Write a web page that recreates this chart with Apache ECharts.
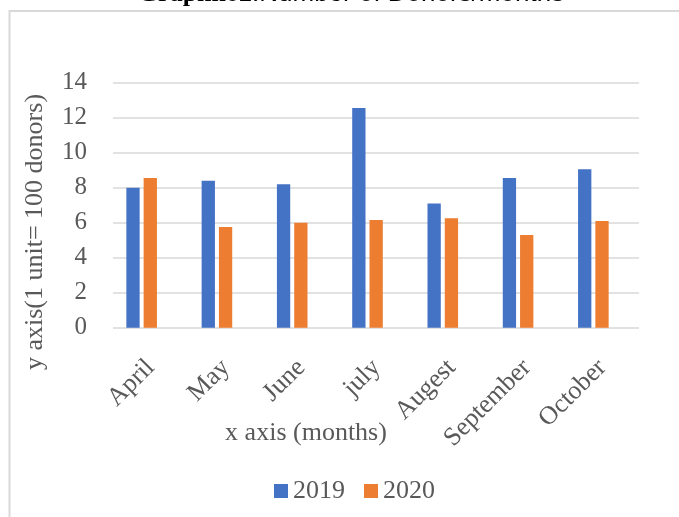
<!DOCTYPE html>
<html>
<head>
<meta charset="utf-8">
<script src="https://cdn.jsdelivr.net/npm/echarts@6/dist/echarts.min.js"></script>
<style>
  html, body { margin: 0; padding: 0; background: #fff; }
  #chart { width: 679px; height: 517px; }
</style>
</head>
<body>
<div id="chart"></div>
<script>
// Monthly donor counts (1 unit = 100 donors)
const months = ['April', 'May', 'June', 'july', 'Augest', 'September', 'October'];
const donors2019 = [8.0, 8.4, 8.2, 12.55, 7.1, 8.55, 9.05];
const donors2020 = [8.55, 5.75, 6.0, 6.15, 6.25, 5.3, 6.1];
const seriesNames = ['2019', '2020'];
const yTicks = { min: 0, max: 14, step: 2 };

const serif = 'Liberation Serif';
const grey = '#595959';
const gridLine = '#d9d9d9';

const chart = echarts.init(document.getElementById('chart'), null, { renderer: 'canvas' });

chart.setOption({
  animation: false,
  backgroundColor: '#ffffff',
  color: ['#4472C4', '#ED7D31'],
  graphic: [
    {
      type: 'rect',
      shape: { x: 9.5, y: 11, width: 720, height: 560 },
      style: { fill: 'none', stroke: gridLine, lineWidth: 2 },
      silent: true
    },
    {
      type: 'text',
      x: 351, y: -6,
      style: {
        text: '{a|Graphno2}{b|:Number of Donors/months}',
        align: 'center',
        verticalAlign: 'middle',
        rich: {
          a: { fontFamily: serif, fontWeight: 'bold', fontSize: 26, fill: '#000' },
          b: { fontFamily: 'Liberation Sans', fontSize: 26, fill: '#000' }
        }
      }
    },
    {
      type: 'text',
      x: 35, y: 232,
      rotation: Math.PI / 2,
      style: {
        text: 'y axis(1 unit= 100 donors)',
        align: 'center', verticalAlign: 'middle',
        fontFamily: serif, fontSize: 26, fill: grey
      }
    },
    {
      type: 'text',
      x: 306, y: 433,
      style: {
        text: 'x axis (months)',
        align: 'center', verticalAlign: 'middle',
        fontFamily: serif, fontSize: 26, fill: grey
      }
    }
  ],
  legend: {
    data: seriesNames,
    left: 269, top: 473,
    icon: 'rect',
    itemWidth: 14, itemHeight: 14,
    itemGap: 19,
    textStyle: { fontFamily: serif, fontSize: 26, color: grey, lineHeight: 26 }
  },
  grid: [
    // value grid: gridlines and y tick labels
    { left: 113, right: 40, top: 82.7, bottom: 189.3 },
    // category grid: bars
    { left: 104, right: 48, top: 82.7, bottom: 189.3 },
    // month label row, set slightly right of the bar slots
    { left: 113, right: 39, top: 82.7, bottom: 189.3 }
  ],
  xAxis: [
    { gridIndex: 0, type: 'category', data: months, show: false },
    { gridIndex: 1, type: 'category', data: months, show: false },
    {
      gridIndex: 2, type: 'category', data: months,
      axisLine: { show: false }, axisTick: { show: false },
      axisLabel: { rotate: 45, margin: 36, fontFamily: serif, fontSize: 26, color: grey, interval: 0 }
    }
  ],
  yAxis: [
    {
      gridIndex: 0, type: 'value',
      min: yTicks.min, max: yTicks.max, interval: yTicks.step,
      axisLine: { show: false }, axisTick: { show: false },
      axisLabel: { margin: 26, fontFamily: serif, fontSize: 25, color: grey },
      splitLine: { lineStyle: { color: gridLine, width: 1.5 } }
    },
    {
      gridIndex: 1, type: 'value',
      min: yTicks.min, max: yTicks.max, interval: yTicks.step,
      show: false, splitLine: { show: false }
    },
    {
      gridIndex: 2, type: 'value',
      min: yTicks.min, max: yTicks.max, interval: yTicks.step,
      show: false, splitLine: { show: false }
    }
  ],
  series: [
    {
      name: seriesNames[0], type: 'bar', xAxisIndex: 1, yAxisIndex: 1,
      data: donors2019, barWidth: 13.3, barGap: '30%'
    },
    {
      name: seriesNames[1], type: 'bar', xAxisIndex: 1, yAxisIndex: 1,
      data: donors2020, barWidth: 13.3, barGap: '30%'
    }
  ]
});
</script>
</body>
</html>
